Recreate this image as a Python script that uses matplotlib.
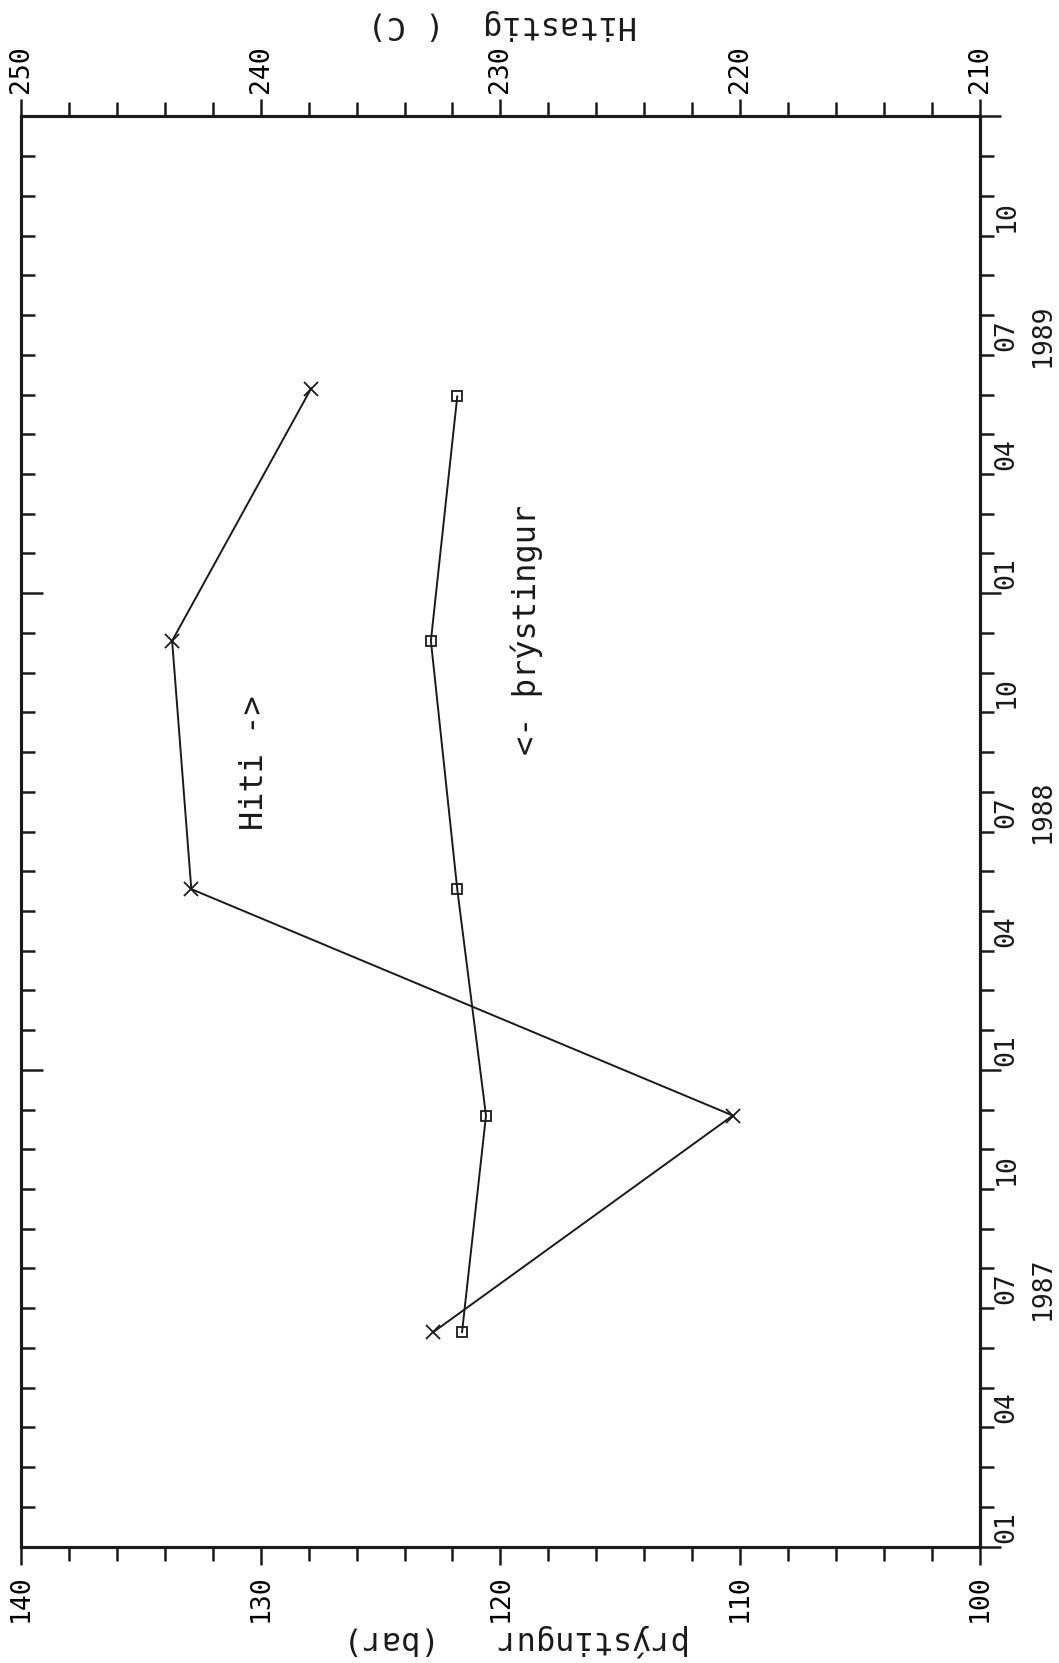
import matplotlib
matplotlib.use("Agg")
import matplotlib.pyplot as plt
from matplotlib.ticker import MultipleLocator

# mælingar: tími í mánuðum frá 1. jan 1987
p_months = [5.4, 10.85, 16.55, 22.8, 28.95]
pressure = [121.6, 120.6, 121.8, 122.9, 121.8]
t_months = [5.4, 10.85, 16.55, 22.8, 29.15]
temperature = [232.8, 220.3, 242.9, 243.7, 237.9]

years = ["1987", "1988", "1989"]
month_labels = ["01", "04", "07", "10"]

plt.rcParams['font.family'] = ['DejaVu Sans Mono']
ink = '#1a1a1a'

fig = plt.figure(figsize=(10.59, 16.63), dpi=100)
ax = fig.add_axes([0.020, 0.070, 0.905, 0.860])
ax.set_xlim(140, 100)
ax.set_ylim(0, 12 * len(years))

# þrýstingur (neðri ás, snúið mynd)
ax.plot(pressure, p_months, color=ink, lw=1.4, marker='s', ms=7,
        mfc='none', mec=ink, mew=1.3)

# hiti (efri ás)
ax2 = ax.twiny()
ax2.set_xlim(250, 210)
ax2.plot(temperature, t_months, color=ink, lw=1.4, marker='x', ms=10, mew=1.3)

for a in (ax, ax2):
    for s in a.spines.values():
        s.set_linewidth(2.2)
        s.set_color(ink)

# neðri ás
ax.xaxis.set_major_locator(MultipleLocator(10))
ax.xaxis.set_minor_locator(MultipleLocator(2))
ax.tick_params(axis='x', which='both', direction='out', top=False, bottom=True,
               width=1.8, color=ink, labelsize=19, labelrotation=90, pad=7)
ax.tick_params(axis='x', which='major', length=13)
ax.tick_params(axis='x', which='minor', length=10)

# efri ás
ax2.xaxis.set_major_locator(MultipleLocator(10))
ax2.xaxis.set_minor_locator(MultipleLocator(2))
ax2.tick_params(axis='x', which='both', direction='out', top=True, bottom=False,
                labeltop=True, labelbottom=False, width=1.8, color=ink,
                labelsize=19, labelrotation=90, pad=5)
ax2.tick_params(axis='x', which='major', length=12)
ax2.tick_params(axis='x', which='minor', length=10)

# vinstri ás: tikk inn á við, mánaðarleg
ax.yaxis.set_major_locator(MultipleLocator(12))
ax.yaxis.set_minor_locator(MultipleLocator(1))
ax.tick_params(axis='y', which='both', direction='in', left=True, right=False,
               labelleft=False, width=1.8, color=ink)
ax.tick_params(axis='y', which='major', length=16)
ax.tick_params(axis='y', which='minor', length=10)

# hægri ás: tikk út á við
sec = ax.secondary_yaxis('right')
sec.yaxis.set_major_locator(MultipleLocator(12))
sec.yaxis.set_minor_locator(MultipleLocator(1))
sec.tick_params(axis='y', which='both', direction='out', labelright=False,
                width=1.8, color=ink)
sec.tick_params(axis='y', which='major', length=15)
sec.tick_params(axis='y', which='minor', length=10)
sec.spines['right'].set_linewidth(2.2)

# mánaðar- og ártöl
tr = ax.get_yaxis_transform()
for i, yr in enumerate(years):
    for j, m in enumerate(month_labels):
        ax.text(1.028, 12 * i + 3 * j + 0.5, m, transform=tr, rotation=90,
                ha='center', va='center', fontsize=19, color=ink)
    ax.text(1.066, 12 * i + 6.5, yr, transform=tr, rotation=90,
            ha='center', va='center', fontsize=19, color=ink)

ax.text(0.243, 0.548, "Hiti ->", transform=ax.transAxes, rotation=90,
        ha='center', va='center', fontsize=23, color=ink)
ax.text(0.527, 0.641, "<- þrýstingur", transform=ax.transAxes, rotation=90,
        ha='center', va='center', fontsize=23, color=ink)

fig.text(0.488, 0.0135, "þrýstingur   (bar)", rotation=180,
         ha='center', va='center', fontsize=23, color=ink)
fig.text(0.474, 0.985, "Hitastig  ( C)", rotation=180,
         ha='center', va='center', fontsize=23, color=ink)

fig.savefig("out.png", dpi=100, facecolor='white')
